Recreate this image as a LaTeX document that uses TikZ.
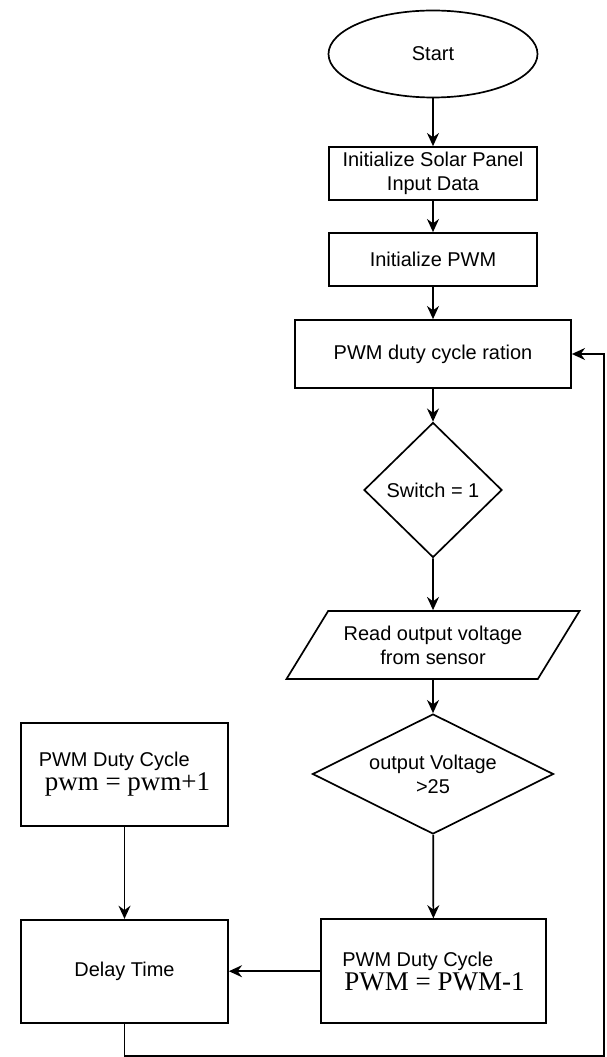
\documentclass[tikz,border=0pt]{standalone}
\usepackage{fontspec}
\setmainfont{Liberation Sans}
\newfontfamily\serifeq{Liberation Serif}
\usetikzlibrary{shapes.geometric}
\usetikzlibrary{arrows.meta}

\newcommand{\eqline}[1]{{\serifeq\fontsize{19.2}{22}\selectfont #1}}

\begin{document}
\begin{tikzpicture}[font=\fontsize{14.2}{17}\selectfont, line width=1.2pt]
				\tikzstyle{termnode}=[draw=black, ellipse, minimum width=52.25mm, minimum height=21.75mm, text=black]
				\tikzstyle{procnode}=[draw=black, minimum width=52mm, minimum height=13.25mm, align=center, inner sep=2pt, text=black]
				\tikzstyle{decnode}=[draw=black, diamond, aspect=1, inner sep=1pt, align=center, text=black]
				\tikzstyle{ionode}=[draw=black, trapezium, trapezium left angle=49, trapezium right angle=131, trapezium stretches body, minimum height=17mm, align=center, text=black]
				\tikzstyle{flowarrow}=[-{Stealth[length=3.3mm, width=3mm, inset=1.1mm]}]
				
				\useasboundingbox (0,0) rectangle (15.15,-26.425);
				
				\node (st) at (10.825,-1.35) [termnode] {Start};
				\node (in1) at (10.825,-4.3375) [procnode] {Initialize Solar Panel\\Input Data};
				\node (in2) at (10.825,-6.4875) [procnode] {Initialize PWM};
				\node (dc) at (10.825,-8.85) [procnode, minimum width=69mm, minimum height=17mm] {PWM duty cycle ration};
				\node (sw) at (10.825,-12.25) [decnode, minimum width=34.5mm, minimum height=33.75mm] {Switch = 1};
				\node (rd) at (10.825,-16.125) [ionode, minimum width=73.25mm] {Read output voltage\\from sensor};
				\node (ov) at (10.825,-19.35) [decnode, aspect=2, minimum width=60.25mm, minimum height=30mm] {output Voltage\\>25};
				
				\node (inc) at (3.1125,-19.3625) [procnode, minimum width=51.75mm, minimum height=25.75mm, align=left] {PWM Duty Cycle\\\hspace*{0.3em}\eqline{pwm = pwm+1}};
				\node (dl) at (3.1125,-24.28) [procnode, minimum width=51.75mm, minimum height=25.75mm] {Delay Time};
				\node (dec) at (10.8375,-24.28) [procnode, minimum width=56.25mm, minimum height=26mm, align=left] {PWM Duty Cycle\\\hspace*{0.1em}\eqline{PWM = PWM-1}};
				
				\draw [flowarrow] (st) -- (in1);
				\draw [flowarrow] (in1) -- (in2);
				\draw [flowarrow] (in2) -- (dc);
				\draw [flowarrow] (dc) -- (sw);
				\draw [flowarrow] (sw) -- (rd);
				\draw [flowarrow] (rd) -- (ov);
				\draw [flowarrow] (ov) -- (dec);
				\draw [flowarrow] (dec) -- (dl);
				\draw [flowarrow] (inc) -- (dl);
				
				% loop back to the duty cycle box
				\coordinate (rb) at (15.1,-26.4);
				\draw [flowarrow] (dl.south) |- (rb) |- (dc.east);
\end{tikzpicture}
\end{document}
